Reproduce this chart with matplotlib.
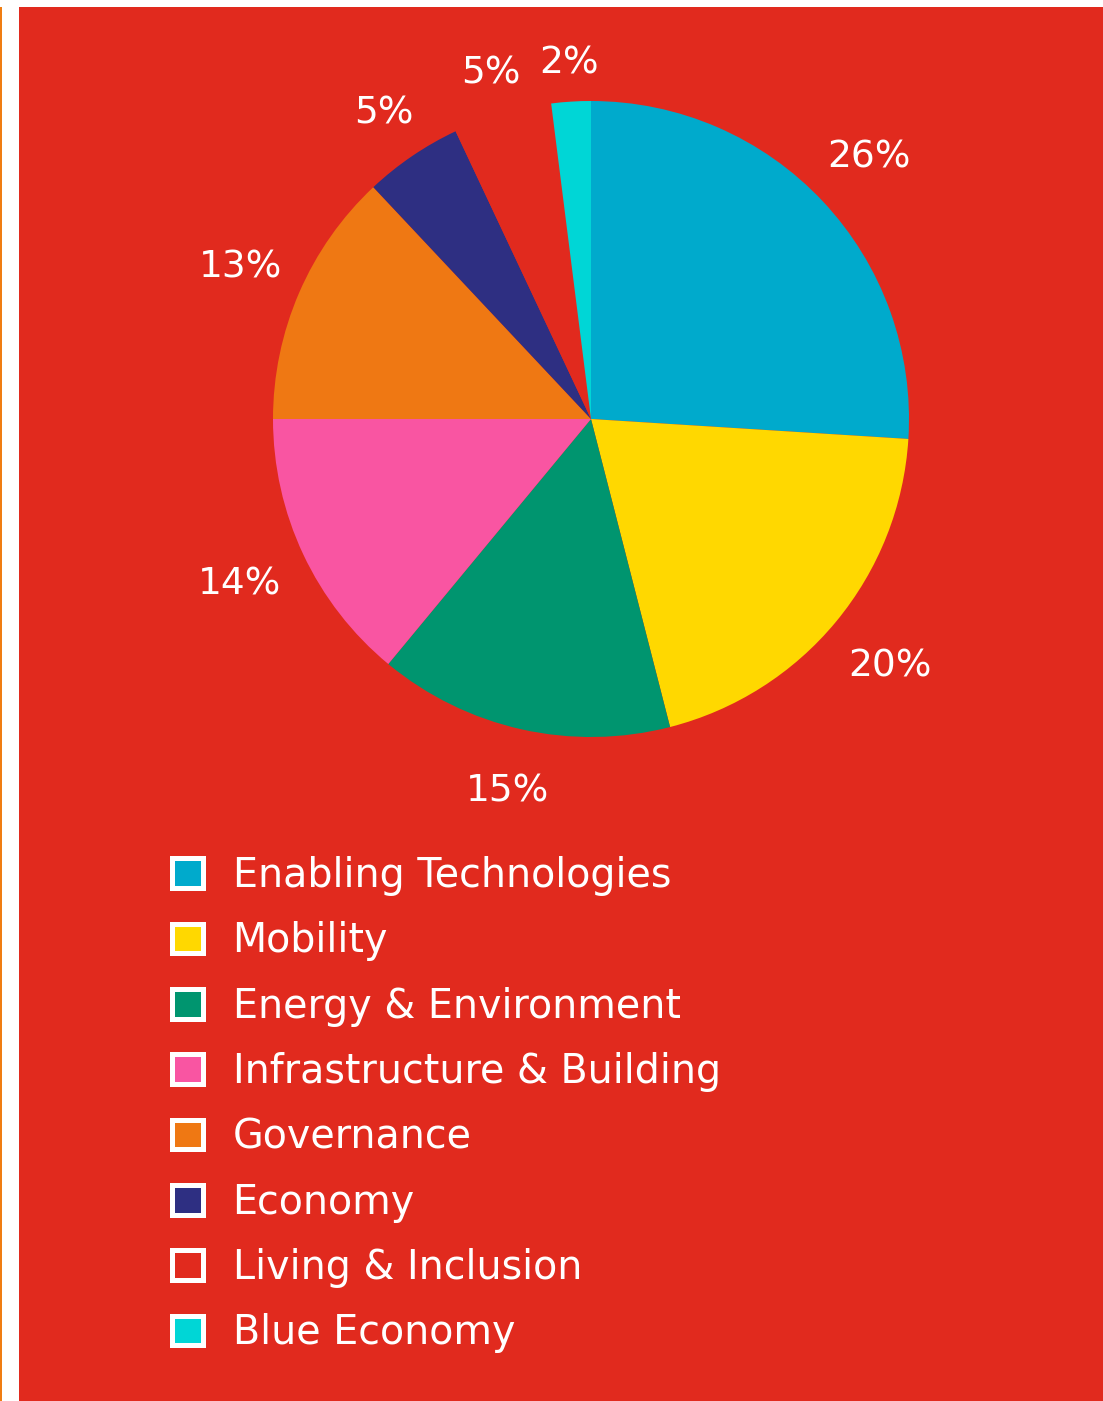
import matplotlib
matplotlib.use("Agg")
import numpy as np
from matplotlib import pyplot as plt
from matplotlib.patches import Rectangle, Patch

# data
categories = ["Enabling Technologies", "Mobility", "Energy & Environment",
              "Infrastructure & Building", "Governance", "Economy",
              "Living & Inclusion", "Blue Economy"]
shares = [26, 20, 15, 14, 13, 5, 5, 2]
colors = ["#00AACC", "#FFD800", "#00956F", "#F955A2", "#EF7813",
          "#2E2F82", "#E12A1E", "#00D6D6"]

# how far out each percent label sits (pie radius = 1)
label_r = [1.2, 1.22, 1.2, 1.22, 1.2, 1.16, 1.13, 1.12]

bg_red = "#E12A1E"
plt.rcParams['font.family'] = ['DejaVu Sans']

W, H = 1103, 1401
fig = plt.figure(figsize=(W / 100, H / 100), dpi=100)
fig.patch.set_facecolor("white")

# red panel + thin orange rule on the left
fig.add_artist(Rectangle((19 / W, 0), 1 - 19 / W, 1 - 7 / H, transform=fig.transFigure,
                         facecolor=bg_red, edgecolor="none", zorder=0))
fig.add_artist(Rectangle((0, 0), 2 / W, 1 - 7 / H, transform=fig.transFigure,
                         facecolor="#F07D12", edgecolor="none", zorder=0))

# pie
cx, cy, r = 591, 419, 318
ax = fig.add_axes([(cx - r) / W, 1 - (cy + r) / H, 2 * r / W, 2 * r / H])
ax.set_facecolor("none")
wedges, _ = ax.pie(shares, colors=colors, startangle=90, counterclock=False,
                   radius=1, wedgeprops=dict(linewidth=0))
for w, s, d in zip(wedges, shares, label_r):
    ang = np.deg2rad((w.theta1 + w.theta2) / 2)
    ax.text(d * np.cos(ang), d * np.sin(ang), f"{s}%", color="white",
            fontsize=27, ha="center", va="center")
ax.set_xlim(-1, 1)
ax.set_ylim(-1, 1)
ax.axis("off")

# legend
handles = [Patch(facecolor=c, edgecolor="white", linewidth=3.6) for c in colors]
leg = fig.legend(handles, categories, loc="upper left",
                 bbox_to_anchor=(172 / W, 1 - 856 / H), frameon=False,
                 fontsize=28.5, handlelength=0.78, handleheight=0.78, handletextpad=0.75,
                 labelspacing=0.64, borderpad=0, borderaxespad=0)
for t in leg.get_texts():
    t.set_color("white")

fig.savefig("out.png", dpi=100)
